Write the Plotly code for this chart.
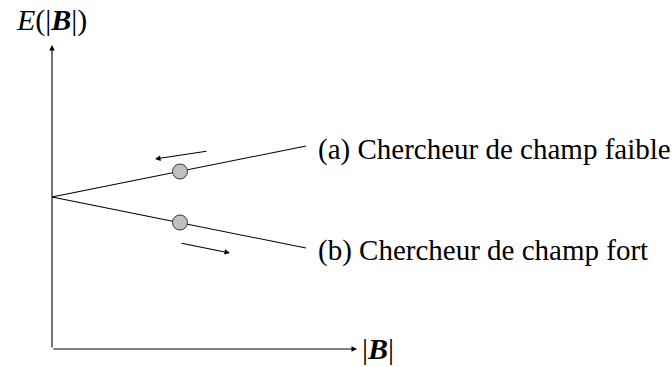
import plotly.graph_objects as go

# Schematic data (arbitrary units)
B_line = [0.0, 25.4]
E_weak = [15.2, 20.3]     # (a) weak-field seeker: energy rises with |B|
E_strong = [15.2, 10.1]   # (b) strong-field seeker: energy falls with |B|
B_dot = [12.8]
E_dot_weak = [17.75]
E_dot_strong = [12.65]
# motion arrows: (tail, head)
arrow_weak = {"B": [15.6, 10.3], "E": [19.8, 19.0]}
arrow_strong = {"B": [12.8, 17.8], "E": [10.6, 9.6]}
B_axis_end = 30.5
E_axis_end = 30.4
labels = ["(a) Chercheur de champ faible", "(b) Chercheur de champ fort"]

FONT = "Liberation Serif"

fig = go.Figure()
fig.add_trace(go.Scatter(x=B_line, y=E_weak, mode="lines",
                         line=dict(color="black", width=1.1), hoverinfo="skip"))
fig.add_trace(go.Scatter(x=B_line, y=E_strong, mode="lines",
                         line=dict(color="black", width=1.1), hoverinfo="skip"))
fig.add_trace(go.Scatter(x=B_dot + B_dot, y=E_dot_weak + E_dot_strong, mode="markers",
                         marker=dict(size=15, color="#c0c0c0",
                                     line=dict(color="#333333", width=1)),
                         hoverinfo="skip"))

def arrow(x0, y0, x1, y1, w=1.1, size=1.0):
    fig.add_annotation(x=x1, y=y1, ax=x0, ay=y0, xref="x", yref="y",
                       axref="x", ayref="y", showarrow=True, arrowhead=2,
                       arrowsize=size, arrowwidth=w, arrowcolor="black", text="")

# axes
arrow(0, 0, B_axis_end, 0)
arrow(0, 0, 0, E_axis_end)
# motion arrows
arrow(arrow_weak["B"][0], arrow_weak["E"][0], arrow_weak["B"][1], arrow_weak["E"][1])
arrow(arrow_strong["B"][0], arrow_strong["E"][0], arrow_strong["B"][1], arrow_strong["E"][1])

fig.add_annotation(x=26.4, y=20.0, text=labels[0], showarrow=False, xanchor="left",
                   yanchor="middle", font=dict(family=FONT, size=29, color="black"))
fig.add_annotation(x=26.4, y=9.9, text=labels[1], showarrow=False, xanchor="left",
                   yanchor="middle", font=dict(family=FONT, size=29, color="black"))
fig.add_annotation(x=30.8, y=0.1, text="|<b><i>B</i></b>|", showarrow=False,
                   xanchor="left", yanchor="middle",
                   font=dict(family=FONT, size=30, color="black"))
fig.add_annotation(x=-0.1, y=32.9, text="<i>E</i>(|<b><i>B</i></b>|)", showarrow=False,
                   xanchor="center", yanchor="middle",
                   font=dict(family=FONT, size=30, color="black"))

fig.update_layout(width=672, height=367, margin=dict(l=0, r=0, t=0, b=0),
                  paper_bgcolor="white", plot_bgcolor="white", showlegend=False,
                  xaxis=dict(range=[-5.2, 62.0], visible=False, fixedrange=True),
                  yaxis=dict(range=[-1.8, 34.9], visible=False, fixedrange=True))
fig.write_html("out.html", config={"displayModeBar": False},
               post_script="document.body.style.margin='0';document.body.style.overflow='hidden';")
